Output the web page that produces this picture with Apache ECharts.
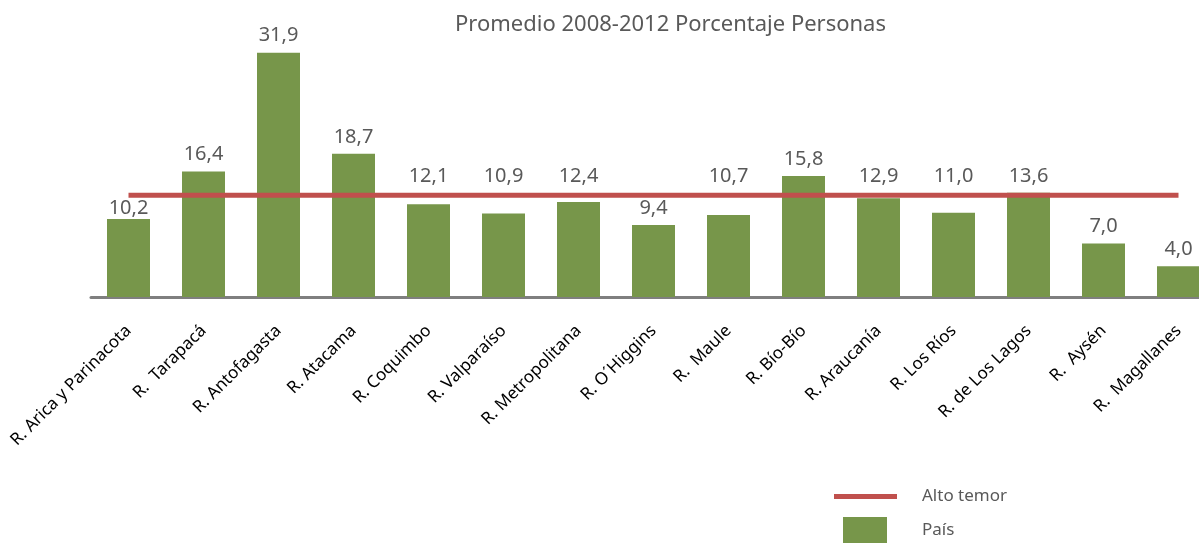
<!DOCTYPE html>
<html>
<head>
<meta charset="utf-8">
<script src="https://cdn.jsdelivr.net/npm/echarts@6/dist/echarts.min.js"></script>
<style>
html, body { margin: 0; padding: 0; background: #fff; }
#chart { width: 1199px; height: 543px; }
</style>
</head>
<body>
<div id="chart"></div>
<script>
// datos
const regiones = [
    "R. Arica y Parinacota", "R.  Tarapacá", "R. Antofagasta", "R. Atacama",
    "R. Coquimbo", "R. Valparaíso", "R. Metropolitana", "R. O´Higgins",
    "R.  Maule", "R. Bío-Bío", "R. Araucanía", "R. Los Ríos",
    "R. de Los Lagos", "R.  Aysén", "R.  Magallanes"
];
const pais = [10.2, 16.4, 31.9, 18.7, 12.1, 10.9, 12.4, 9.4, 10.7, 15.8, 12.9, 11.0, 13.6, 7.0, 4.0];
const altoTemor = [13.3, 13.3, 13.3, 13.3, 13.3, 13.3, 13.3, 13.3, 13.3, 13.3, 13.3, 13.3, 13.3, 13.3, 13.3];

const FONT = "Noto Sans";
const GRIS = "#595959";
const LABEL_H = 20;
const DIST = 7;

function fmt(v) {
    return v.toFixed(1).replace(".", ",");
}

const chart = echarts.init(document.getElementById("chart"));

const option = {
    animation: false,
    title: {
        text: "Promedio 2008-2012 Porcentaje Personas",
        left: 455,
        top: 14,
        padding: 0,
        textStyle: { fontFamily: FONT, fontSize: 22, fontWeight: "normal", color: GRIS },
    },
    legend: [
        {
            data: [{ name: "Alto temor", icon: "rect" }],
            left: 834,
            top: 488,
            padding: 0,
            itemWidth: 63,
            itemHeight: 5,
            selectedMode: false,
            textStyle: { fontFamily: FONT, fontSize: 17, color: GRIS, padding: [0, 0, 0, 20] },
        },
        {
            data: [{ name: "País", icon: "rect" }],
            left: 843,
            top: 517,
            padding: 0,
            itemWidth: 44,
            itemHeight: 26,
            selectedMode: false,
            textStyle: { fontFamily: FONT, fontSize: 17, color: GRIS, padding: [0, 0, 0, 30] },
        },
    ],
    grid: {
        left: 91,
        top: 29,
        width: 1125,
        height: 268,
        outerBoundsMode: "none",
    },
    xAxis: {
        type: "category",
        data: regiones,
        axisLine: { lineStyle: { color: "#7f7f7f", width: 3 } },
        axisTick: { show: false },
        axisLabel: {
            interval: 0,
            rotate: 45,
            margin: 31,
            fontFamily: FONT,
            fontSize: 17,
            color: "#000",
        },
    },
    yAxis: { type: "value", min: 0, max: 35, show: false },
    series: [
        {
            id: "pais",
            name: "País",
            type: "bar",
            barWidth: 43,
            itemStyle: { color: "#77964a" },
            label: {
                show: true,
                position: "top",
                distance: DIST,
                lineHeight: LABEL_H,
                fontFamily: FONT,
                fontSize: 20,
                color: GRIS,
                formatter: p => fmt(p.value),
            },
            data: pais,
            z: 2,
        },
        {
            name: "Alto temor",
            type: "line",
            symbol: "none",
            lineStyle: { color: "#c0504d", width: 5 },
            itemStyle: { color: "#c0504d" },
            data: altoTemor,
            z: 3,
        },
    ],
};

chart.setOption(option);

// etiquetas que tocan la línea: se bajan justo debajo o se suben por encima
const lineY = chart.convertToPixel({ yAxisIndex: 0 }, altoTemor[0]);
const barData = pais.map(v => {
    const top = chart.convertToPixel({ yAxisIndex: 0 }, v);
    const boxBottom = top - DIST;
    const boxTop = boxBottom - LABEL_H;
    let d = DIST;
    if (boxTop < lineY + 2.5 && boxBottom > lineY - 9) {
        const below = top - LABEL_H - (lineY + 3);
        if (below >= 0 && below < DIST) {
            d = below;
        } else {
            d = top - (lineY - 9);
        }
    }
    return { value: v, label: { distance: d } };
});
chart.setOption({ series: [{ id: "pais", data: barData }] });
</script>
</body>
</html>
